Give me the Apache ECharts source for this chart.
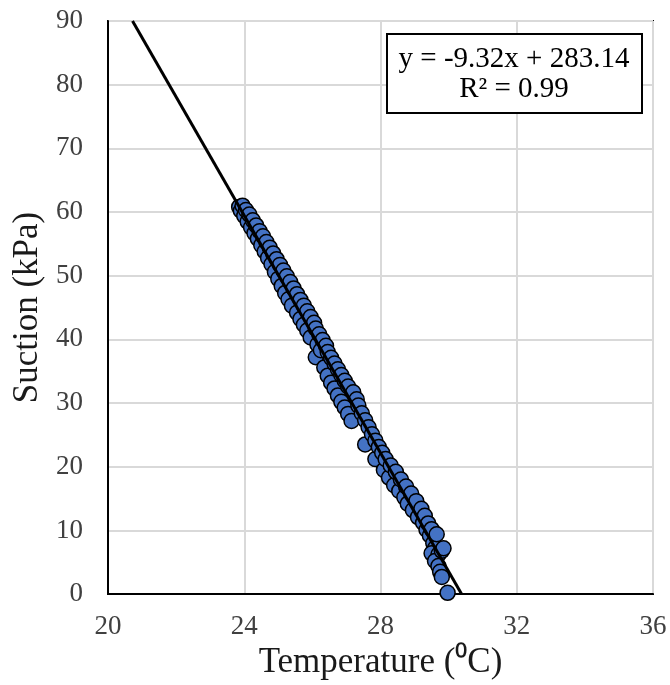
<!DOCTYPE html>
<html>
<head>
<meta charset="utf-8">
<script src="https://cdn.jsdelivr.net/npm/echarts@6/dist/echarts.min.js"></script>
<style>html,body{margin:0;padding:0;background:#fff}#c{width:670px;height:685px}</style>
</head>
<body>
<div id="c"></div>
<script>
// Temperature (°C) of each measured point
var tempC = [23.85,23.9,23.95,24.0,24.05,24.1,24.15,24.2,24.25,24.3,24.35,24.4,24.45,24.5,24.55,24.6,24.65,24.7,24.75,24.8,24.85,24.9,24.95,25.0,25.05,25.1,25.15,25.2,25.25,25.3,25.35,25.4,25.45,25.55,25.55,25.65,25.65,25.75,25.75,25.85,25.85,25.95,25.95,26.05,26.1,26.1,26.15,26.2,26.25,26.3,26.35,26.4,26.45,26.45,26.55,26.55,26.65,26.65,26.75,26.75,26.85,26.85,26.95,26.95,27.05,27.05,27.15,27.2,27.3,27.35,27.45,27.55,27.55,27.65,27.75,27.85,27.85,27.95,28.05,28.1,28.15,28.25,28.3,28.4,28.45,28.55,28.6,28.7,28.75,28.8,28.9,28.95,29.05,29.1,29.2,29.25,29.3,29.35,29.4,29.45,29.5,29.55,29.6,29.5,29.65,29.7,29.6,29.8,29.85,29.7,29.75,29.8,29.97];
// Suction (kPa) of each measured point
var suction = [60.8,60.2,61.0,59.4,60.3,58.5,59.6,57.6,58.7,56.7,57.9,55.8,57.0,54.8,56.2,53.8,55.3,52.8,54.4,51.8,53.5,50.6,52.6,49.5,51.7,48.4,50.8,47.3,49.9,46.3,49.0,45.3,48.0,44.2,47.1,43.2,46.2,42.3,45.3,41.4,44.4,40.3,43.5,42.6,41.7,37.2,39.2,40.8,38.3,39.9,35.6,39.0,34.3,38.0,33.2,37.1,32.3,36.2,31.2,35.3,30.2,34.4,29.3,33.5,28.3,32.6,27.2,31.7,30.6,29.6,28.4,23.5,27.3,26.2,25.1,21.2,24.1,23.1,22.2,19.5,21.2,18.3,20.2,17.1,19.2,16.2,18.0,15.2,16.9,14.2,15.8,13.2,14.6,12.1,13.4,11.2,12.3,10.1,11.1,9.2,10.2,8.0,7.2,6.4,9.4,6.2,5.2,6.8,7.2,4.4,3.5,2.7,0.2];
// Linear trendline end points (y = -9.32x + 283.14 clipped to the axes)
var trendX = [20.72, 30.38];
var trendY = [90, 0];
var eqLines = ['y = -9.32x + 283.14', 'R\u00b2 = 0.99'];
var xTicks = [20, 24, 28, 32, 36];
var yTicks = [0, 10, 20, 30, 40, 50, 60, 70, 80, 90];

var pts = tempC.map(function (t, i) { return [t, suction[i]]; });
var trend = trendX.map(function (t, i) { return [t, trendY[i]]; });
var serif = '"Liberation Serif", "Times New Roman", serif';

var chart = echarts.init(document.getElementById('c'));
chart.setOption({
  animation: false,
  grid: { left: 108, right: 17, top: 21, bottom: 90, show: true, borderColor: '#000', borderWidth: 2, backgroundColor: 'transparent' },
  xAxis: {
    type: 'value', min: xTicks[0], max: xTicks[xTicks.length - 1], interval: 4,
    name: 'Temperature (\u2070C)', nameLocation: 'middle', nameGap: 37,
    nameTextStyle: { fontFamily: serif, fontSize: 35, color: '#1a1a1a' },
    axisLine: { show: true, lineStyle: { color: '#000', width: 2 } },
    axisTick: { show: false },
    axisLabel: { fontFamily: serif, fontSize: 27, color: '#404040', margin: 19 },
    splitLine: { show: true, lineStyle: { color: '#d9d9d9', width: 2 } }
  },
  yAxis: {
    type: 'value', min: yTicks[0], max: yTicks[yTicks.length - 1], interval: 10,
    name: 'Suction (kPa)', nameLocation: 'middle', nameGap: 62,
    nameTextStyle: { fontFamily: serif, fontSize: 35, color: '#1a1a1a' },
    axisLine: { show: true, lineStyle: { color: '#000', width: 2 } },
    axisTick: { show: false },
    axisLabel: { fontFamily: serif, fontSize: 27, color: '#404040', margin: 25 },
    splitLine: { show: true, lineStyle: { color: '#d9d9d9', width: 2 } }
  },
  series: [
    {
      type: 'scatter', data: pts, symbolSize: 15, z: 3,
      itemStyle: { color: '#4472C4', borderColor: '#000', borderWidth: 1.5, opacity: 1 }
    },
    {
      type: 'line', data: trend, symbol: 'none', z: 4,
      lineStyle: { color: '#000', width: 3 }
    }
  ],
  graphic: [
    {
      type: 'rect', x: 387, y: 34, z: 10,
      shape: { width: 255, height: 79 },
      style: { fill: '#fff', stroke: '#000', lineWidth: 2 }
    },
    {
      type: 'text', x: 514, y: 45, z: 11,
      style: { text: eqLines[0], font: '29px ' + serif, fill: '#000', align: 'center', verticalAlign: 'top' }
    },
    {
      type: 'text', x: 514, y: 75, z: 11,
      style: { text: eqLines[1], font: '29px ' + serif, fill: '#000', align: 'center', verticalAlign: 'top' }
    }
  ]
});
</script>
</body>
</html>
